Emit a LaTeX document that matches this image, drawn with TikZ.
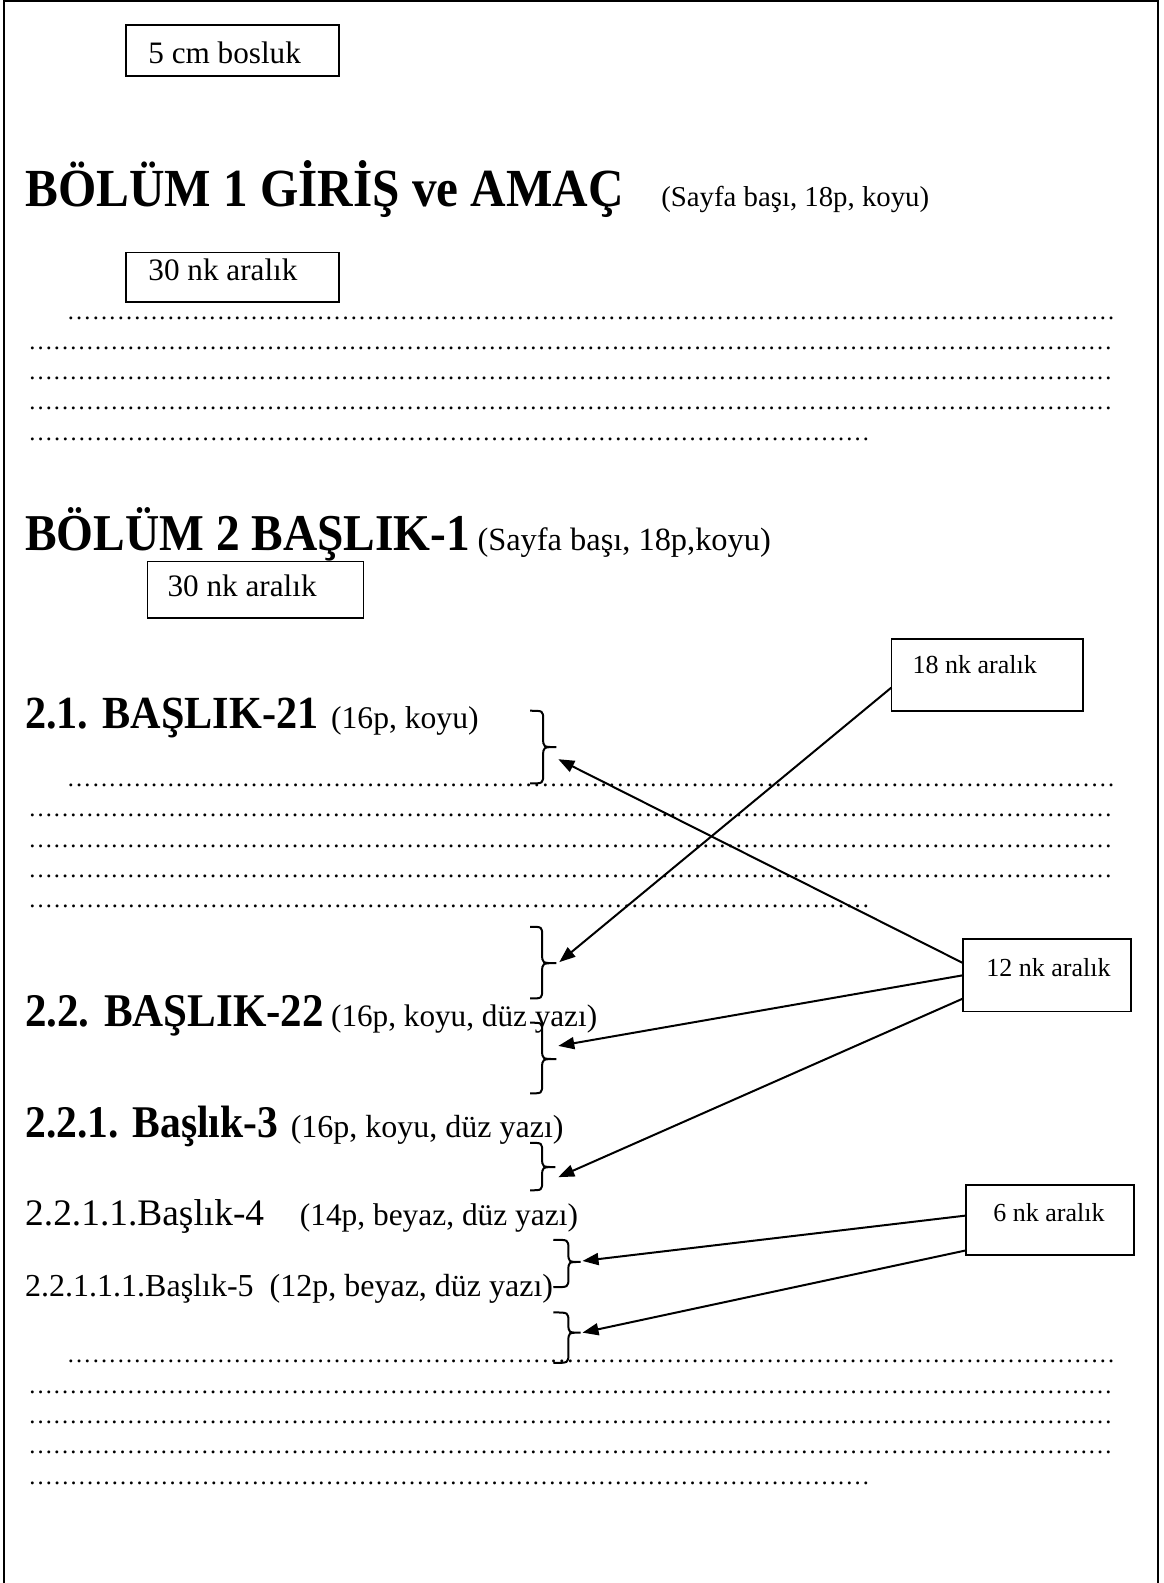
\documentclass[tikz,border=0pt]{standalone}
\usepackage{fontspec}
\setmainfont{Liberation Serif}
\usetikzlibrary{arrows.meta}
\newdimen\pxu \pxu=0.50477pt
\newcommand\fsz[1]{\fontsize{#1}{#1}\selectfont}
\newcommand\tallbf[2]{\scalebox{1}[1.09]{\fsz{#1}\bfseries #2}}
\newcommand\dotrow[1]{\fsz{12.3}\hbox to #1\pxu{\xleaders\hbox{…}\hfill}}
\newcommand\bracepath[6]{\draw[brc] (#1,#4) .. controls (#2,#4) .. (#2,{#4+9}) -- (#2,{#5-9}) .. controls (#2,#5) .. (#3,#5) .. controls (#2,#5) .. (#2,{#5+9}) -- (#2,{#6-9}) .. controls (#2,#6) .. (#1,#6);}
\begin{document}
\begin{tikzpicture}[x=0.50477pt, y=-0.50477pt,
  txt/.style={anchor=base west, inner sep=0pt, outer sep=0pt},
  boxs/.style={draw, line width=0.8pt, anchor=north west, inner sep=0pt, outer sep=0pt},
  con/.style={line width=1pt},
  arr/.style={con, -{Triangle[length=8pt,width=6pt]}},
  brc/.style={line width=1pt}]
\useasboundingbox (0,0) rectangle (1152,1568);
% page frame
\draw[line width=1pt] (4,1570) -- (4,1) -- (1147,1) -- (1147,1570);

% boxes
\node[boxs, minimum width=211\pxu, minimum height=50\pxu] (b5) at (125,25) {};
\node[txt] (t5) at (147,63) {\fsz{15.6}5 cm bosluk};
\node[boxs, minimum width=211\pxu, minimum height=49\pxu] (b30a) at (125,250) {};
\node[txt] (t30a) at (147,278) {\fsz{15.6}30 nk aralık};
\node[boxs, minimum width=214\pxu, minimum height=56\pxu] (b30b) at (146,556) {};
\node[txt] (t30b) at (166,591) {\fsz{15.6}30 nk aralık};
\node[boxs, minimum width=190\pxu, minimum height=71\pxu] (b18) at (883,633) {};
\node[txt] (t18) at (904,667) {\fsz{13}18 nk aralık};
\node[boxs, minimum width=166\pxu, minimum height=72\pxu] (b12) at (954,930) {};
\node[txt] (t12) at (977,967) {\fsz{13}12 nk aralık};
\node[boxs, minimum width=166\pxu, minimum height=69\pxu] (b6) at (957,1174) {};
\node[txt] (t6) at (984,1210) {\fsz{13}6 nk aralık};

% headings
\node[txt] (h1) at (25,205) {\tallbf{24.6}{BÖLÜM 1 GİRİŞ ve AMAÇ}};
\node[txt] (p1) at (655,205) {\fsz{14.4}(Sayfa başı, 18p, koyu)};
\node[txt] (h2) at (25,545) {\tallbf{23.7}{BÖLÜM 2 BAŞLIK-1}};
\node[txt] (p2) at (473,545) {\fsz{16.2}(Sayfa başı, 18p,koyu)};
\node[txt] (h21) at (25,722) {\tallbf{21.1}{2.1. BAŞLIK-21}};
\node[txt] (p21) at (328,722) {\fsz{15.8}(16p, koyu)};
\node[txt] (h22) at (25,1017) {\tallbf{21.5}{2.2. BAŞLIK-22}};
\node[txt] (p22) at (328,1017) {\fsz{15.6}(16p, koyu, düz yazı)};
\node[txt] (h221) at (25,1127) {\tallbf{20.8}{2.2.1. Başlık-3}};
\node[txt] (p221) at (288,1127) {\fsz{16}(16p, koyu, düz yazı)};
\node[txt] (h2211) at (25,1214) {\fsz{18.7}2.2.1.1.Başlık-4};
\node[txt] (p2211) at (297,1214) {\fsz{15.7}(14p, beyaz, düz yazı)};
\node[txt] (h22111) at (25,1284) {\fsz{16}2.2.1.1.1.Başlık-5\ \ (12p, beyaz, düz yazı)};

% dotted text rows
\node[txt] (r11) at (66,316) {\dotrow{1039}};
\node[txt] (r12) at (28,346) {\dotrow{1074}};
\node[txt] (r13) at (28,376) {\dotrow{1074}};
\node[txt] (r14) at (28,406) {\dotrow{1074}};
\node[txt] (r15) at (28,436) {\dotrow{834}};
\node[txt] (r21) at (66,779) {\dotrow{1039}};
\node[txt] (r22) at (28,809) {\dotrow{1074}};
\node[txt] (r23) at (28,839) {\dotrow{1074}};
\node[txt] (r24) at (28,869) {\dotrow{1074}};
\node[txt] (r25) at (28,899) {\dotrow{834}};
\node[txt] (r31) at (66,1350) {\dotrow{1039}};
\node[txt] (r32) at (28,1380) {\dotrow{1074}};
\node[txt] (r33) at (28,1410) {\dotrow{1074}};
\node[txt] (r34) at (28,1440) {\dotrow{1074}};
\node[txt] (r35) at (28,1470) {\dotrow{834}};

% braces
\bracepath{525}{538}{551}{704}{740}{776}
\bracepath{525}{537}{551}{918}{954}{989}
\bracepath{525}{537}{551}{1013}{1049}{1083}
\bracepath{525}{537}{550}{1132}{1156}{1179}
\bracepath{548}{563}{575}{1228}{1250}{1275}
\bracepath{548}{563}{575}{1300}{1320}{1350}

% arrow ends
\coordinate (e1) at (553,752);
\coordinate (e2) at (554,953);
\coordinate (e3) at (553,1036);
\coordinate (e4) at (553,1166);
\coordinate (e5) at (577,1249);
\coordinate (e6) at (577,1320);

\draw[arr] ([yshift=12\pxu]b12.west) -- (e1);
\draw[arr] ([yshift=-12.5\pxu]b18.west) -- (e2);
\draw[arr] (b12.west) -- (e3);
\draw[arr] ([yshift=-23\pxu]b12.west) -- (e4);
\draw[arr] ([yshift=4.5\pxu]b6.west) -- (e5);
\draw[arr] ([yshift=-30\pxu]b6.west) -- (e6);
\end{tikzpicture}
\end{document}
